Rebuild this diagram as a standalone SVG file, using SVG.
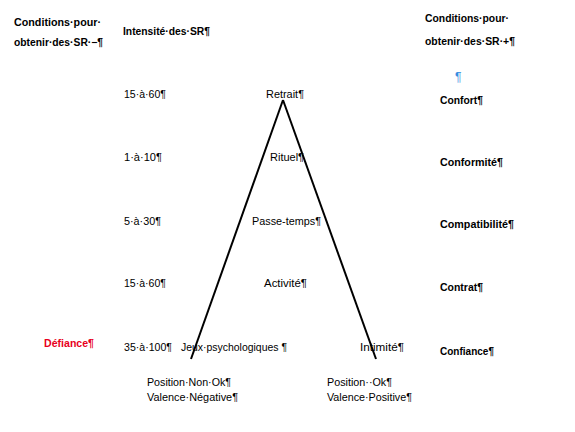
<svg xmlns="http://www.w3.org/2000/svg" width="575" height="432" viewBox="0 0 575 432">
<style>
text{font-family:"Liberation Sans",Arial,sans-serif;font-size:10.5px;fill:#000}
.b{font-weight:bold}
.red{fill:#e8001c}
.blue{fill:#3a8de0;font-size:12px}
.line{stroke:#000;stroke-width:2;fill:none}
</style>
<rect width="575" height="432" fill="#fff"/>
<g id="connectors">
<line class="line" x1="283" y1="100" x2="191" y2="359"/>
<line class="line" x1="283" y1="100" x2="376" y2="359"/>
</g>
<g id="header-left">
<text class="b" x="14" y="26" textLength="87" lengthAdjust="spacingAndGlyphs">Conditions·pour·</text>
<text class="b" x="14" y="46" textLength="89" lengthAdjust="spacingAndGlyphs">obtenir·des·SR·−¶</text>
</g>
<g id="header-intensity">
<text class="b" x="123" y="35" textLength="87" lengthAdjust="spacingAndGlyphs">Intensité·des·SR¶</text>
</g>
<g id="header-right">
<text class="b" x="425" y="22" textLength="84" lengthAdjust="spacingAndGlyphs">Conditions·pour·</text>
<text class="b" x="425" y="45" textLength="90" lengthAdjust="spacingAndGlyphs">obtenir·des·SR·+¶</text>
<text class="blue" x="455" y="81">¶</text>
</g>
<g id="row-retrait">
<text x="124" y="98" textLength="42" lengthAdjust="spacingAndGlyphs">15·à·60¶</text>
<text x="266" y="98" textLength="38" lengthAdjust="spacingAndGlyphs">Retrait¶</text>
<text class="b" x="440" y="104" textLength="43" lengthAdjust="spacingAndGlyphs">Confort¶</text>
</g>
<g id="row-rituel">
<text x="124" y="161" textLength="38" lengthAdjust="spacingAndGlyphs">1·à·10¶</text>
<text x="270" y="161" textLength="34" lengthAdjust="spacingAndGlyphs">Rituel¶</text>
<text class="b" x="440" y="166" textLength="63" lengthAdjust="spacingAndGlyphs">Conformité¶</text>
</g>
<g id="row-passe-temps">
<text x="124" y="225" textLength="37" lengthAdjust="spacingAndGlyphs">5·à·30¶</text>
<text x="252" y="225" textLength="69" lengthAdjust="spacingAndGlyphs">Passe-temps¶</text>
<text class="b" x="440" y="228" textLength="74" lengthAdjust="spacingAndGlyphs">Compatibilité¶</text>
</g>
<g id="row-activite">
<text x="124" y="287" textLength="42" lengthAdjust="spacingAndGlyphs">15·à·60¶</text>
<text x="264" y="287" textLength="43" lengthAdjust="spacingAndGlyphs">Activité¶</text>
<text class="b" x="440" y="291" textLength="43" lengthAdjust="spacingAndGlyphs">Contrat¶</text>
</g>
<g id="row-jeux">
<text class="b red" x="44" y="347" textLength="50" lengthAdjust="spacingAndGlyphs">Défiance¶</text>
<text x="124" y="351" textLength="48" lengthAdjust="spacingAndGlyphs">35·à·100¶</text>
<text x="181" y="351" textLength="106" lengthAdjust="spacingAndGlyphs">Jeux·psychologiques ¶</text>
<text x="360" y="351" textLength="44" lengthAdjust="spacingAndGlyphs">Intimité¶</text>
<text class="b" x="440" y="355" textLength="54" lengthAdjust="spacingAndGlyphs">Confiance¶</text>
</g>
<g id="position-negative">
<text x="147" y="386" textLength="84" lengthAdjust="spacingAndGlyphs">Position·Non·Ok¶</text>
<text x="147" y="401" textLength="91" lengthAdjust="spacingAndGlyphs">Valence·Négative¶</text>
</g>
<g id="position-positive">
<text x="327" y="386" textLength="65" lengthAdjust="spacingAndGlyphs">Position··Ok¶</text>
<text x="327" y="401" textLength="85" lengthAdjust="spacingAndGlyphs">Valence·Positive¶</text>
</g>
</svg>
